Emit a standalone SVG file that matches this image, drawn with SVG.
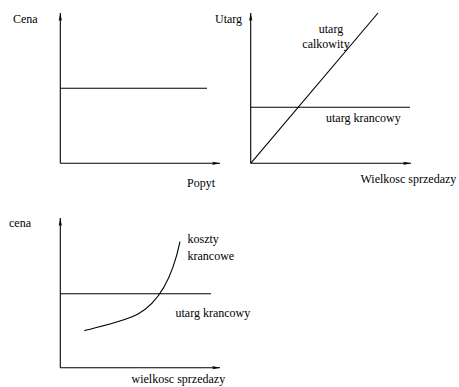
<svg xmlns="http://www.w3.org/2000/svg" width="459" height="387" viewBox="0 0 459 387">
<style>
text{font-family:"Liberation Serif","Times New Roman",serif;font-size:12px;fill:#000}
.ax{stroke:#000;stroke-width:1.1;fill:none;marker-end:url(#ah)}
.ln{stroke:#000;stroke-width:1.1;fill:none}
</style>
<defs>
<marker id="ah" viewBox="0 0 10 4" refX="10" refY="2" markerWidth="8" markerHeight="4" markerUnits="userSpaceOnUse" orient="auto">
<path d="M0,0 L10,2 L0,4 L2,2 Z" fill="#000"/>
</marker>
</defs>
<rect width="459" height="387" fill="#fff"/>
<g id="chart1">
<text x="13" y="22.5">Cena</text>
<text x="187" y="187">Popyt</text>
</g>
<g id="chart2">
<text x="215" y="22.5">Utarg</text>
<text x="331" y="33" text-anchor="middle">utarg</text>
<text x="326" y="48" text-anchor="middle">calkowity</text>
<text x="326" y="122">utarg krancowy</text>
<text x="360.5" y="183">Wielkosc sprzedazy</text>
</g>
<g id="chart3">
<text x="9" y="227">cena</text>
<text x="187.5" y="243">koszty</text>
<text x="187.5" y="260">krancowe</text>
<text x="175.5" y="317">utarg krancowy</text>
<text x="131.5" y="383">wielkosc sprzedazy</text>
</g>
<g id="connectors">
<path class="ax" d="M60.3,163.3 V13"/>
<path class="ax" d="M60.3,163.3 H220"/>
<path class="ln" d="M60.3,88.3 H207"/>
<path class="ax" d="M250.7,163.3 V13"/>
<path class="ax" d="M250.7,163.3 H411"/>
<path class="ln" d="M250.7,107.3 H410"/>
<path class="ln" d="M250.7,163.3 L378,13"/>
<path class="ax" d="M60.3,367.7 V218"/>
<path class="ax" d="M60.3,367.7 H220"/>
<path class="ln" d="M60.3,293.7 H211"/>
<path class="ln" d="M84.3,330.7 C110,324 128,320 138,314 C158,303 172,280 180,241.7"/>
</g>
</svg>
